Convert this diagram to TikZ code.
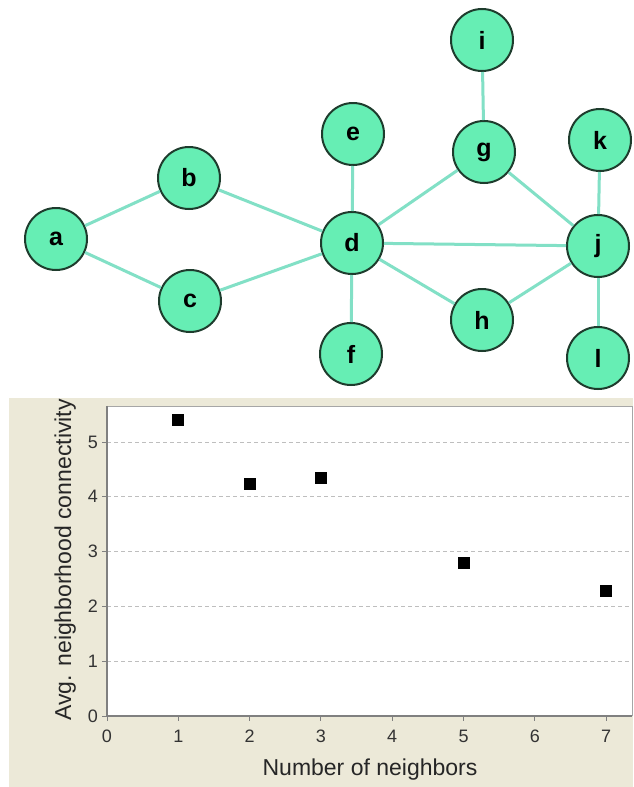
\documentclass[tikz,border=0pt]{standalone}
\usepackage{fontspec}
\setmainfont{Liberation Sans}
\usepackage{xcolor}
\usepackage{tikz}
\usetikzlibrary{positioning}
\definecolor{vtxfill}{RGB}{102,238,180}
\definecolor{vtxline}{RGB}{30,60,45}
\definecolor{lnkcol}{RGB}{130,224,198}
\definecolor{panel}{RGB}{236,233,216}
\definecolor{axcol}{RGB}{128,128,128}
\definecolor{gridcol}{RGB}{190,190,190}
\tikzset{
  vtx/.style={circle, draw=vtxline, line width=2pt, fill=vtxfill,
              minimum size=62pt, inner sep=0pt,
              font=\fontsize{25}{25}\selectfont\bfseries},
  lnk/.style={draw=lnkcol, line width=3pt},
  gridln/.style={draw=gridcol, line width=1pt, dash pattern=on 4pt off 3pt},
  mk/.style={rectangle, fill=black, minimum size=12pt, inner sep=0pt},
  num/.style={font=\fontsize{18}{18}\selectfont, text=black!80, inner sep=0pt},
  ttl/.style={font=\fontsize{23}{23}\selectfont, text=black!85, inner sep=0pt},
}
\begin{document}
\begin{tikzpicture}[x=1pt, y=-1pt]
  \fill[white] (0,0) rectangle (633,787);
  \useasboundingbox (0,0) rectangle (633,787);
  % graph
  \node[vtx] (a) at (56,239)  {a};
  \node[vtx] (b) at (189,178) {b};
  \node[vtx] (c) at (190,301) {c};
  \node[vtx] (d) at (352,243) {d};
  \node[vtx] (e) at (353,134) {e};
  \node[vtx] (f) at (351,354) {f};
  \node[vtx] (g) at (484,152) {g};
  \node[vtx] (h) at (482,320) {h};
  \node[vtx] (i) at (482,40)  {i};
  \node[vtx] (j) at (598,246) {j};
  \node[vtx] (k) at (600,140) {k};
  \node[vtx] (l) at (598,358) {l};
  \draw[lnk] (a)--(b); \draw[lnk] (a)--(c); \draw[lnk] (b)--(d); \draw[lnk] (c)--(d);
  \draw[lnk] (d)--(e); \draw[lnk] (d)--(f); \draw[lnk] (d)--(g); \draw[lnk] (d)--(h);
  \draw[lnk] (d)--(j); \draw[lnk] (g)--(i); \draw[lnk] (g)--(j); \draw[lnk] (h)--(j);
  \draw[lnk] (j)--(k); \draw[lnk] (j)--(l);
  % plot panel
  \fill[panel] (9,398) rectangle (633,787);
  \fill[white] (107,406) rectangle (632,716);
  \draw[axcol!70, line width=1pt] (107,406) -- (632,406) -- (632,716);
  \begin{scope}[shift={(107,716)}, x=71.3pt, y=54.8pt]
    \foreach \v in {1,...,5} \draw[gridln] (0,\v) -- (7.36,\v);
    \draw[axcol, line width=1.5pt] (0,5.66) -- (0,0) -- (7.36,0);
    \foreach \v in {0,...,5} {
      \draw[axcol, line width=1pt] (-5pt,\v) -- (0,\v);
      \node[num, anchor=east] (y\v) at ([xshift=-9pt]0,\v) {\v};
    }
    \foreach \n in {0,...,7} {
      \draw[axcol, line width=1pt] (\n,0) -- ([yshift=-5pt]\n,0);
      \node[num] (x\n) at ([yshift=-20pt]\n,0) {\n};
    }
    \node[mk] (p1) at (1,5.40) {}; \node[mk] (p2) at (2,4.23) {};
    \node[mk] (p3) at (3,4.34) {}; \node[mk] (p5) at (5,2.80) {};
    \node[mk] (p7) at (7,2.28) {};
  \end{scope}
  \node[ttl, anchor=base] (xt) at (370,775) {Number of neighbors};
  \node[ttl, anchor=base, rotate=90] (yt) at (71,560) {Avg. neighborhood connectivity};
\end{tikzpicture}
\end{document}
